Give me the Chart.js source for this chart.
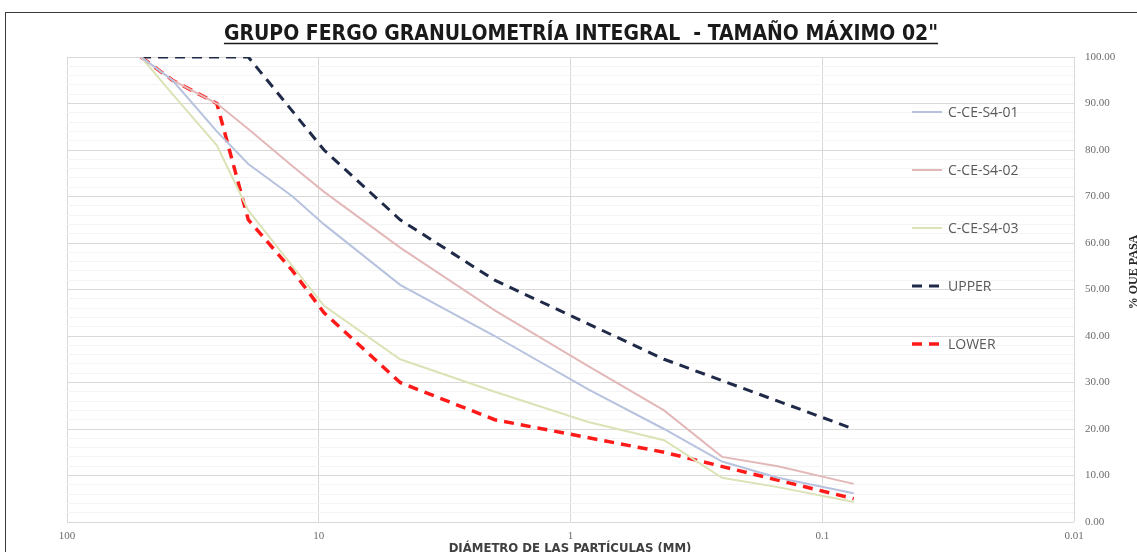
<!DOCTYPE html>
<html>
<head>
<meta charset="utf-8">
<script src="https://cdn.jsdelivr.net/npm/chart.js@4.4.1/dist/chart.umd.min.js"></script>
<style>
  html, body { margin: 0; padding: 0; background: #fff; overflow: hidden; }
  #wrap { position: relative; width: 1137px; height: 552px; overflow: hidden; }
  #frame { position: absolute; left: 5px; top: 12px; width: 1200px; height: 600px; border: 1px solid #3a3a3a; }
  #grafico { position: absolute; left: 0; top: 0; }
</style>
</head>
<body>
<div id="wrap">
  <div id="frame"></div>
  <canvas id="grafico" width="1137" height="552"></canvas>
</div>
<script>
// tamices (mm) y % que pasa
const tamices = [50.8, 38.1, 25.4, 19.05, 12.7, 9.525, 4.75, 2.0, 0.85, 0.425, 0.25, 0.15, 0.075];
const cCeS401 = [100, 95, 84, 77, 70, 64, 51, 40, 28.5, 20, 13, 9.5, 6.2];
const cCeS402 = [100, 95, 90, 84.5, 76.5, 71, 59, 45.5, 33.5, 24, 14, 12, 8.2];
const cCeS403 = [100, 92, 81, 67, 55, 46.5, 35, 28, 21.5, 17.6, 9.5, 7.5, 4.3];
const upper   = [100, null, null, 100, null, 80, 65, 52, null, 35, null, null, 20];
const lower   = [100, 95, 90, 65, 54, 45, 30, 22, null, 15, null, null, 5];

const ticksX = [100, 10, 1, 0.1, 0.01];

const titulo = 'GRUPO FERGO GRANULOMETRÍA INTEGRAL  - TAMAÑO MÁXIMO 02"';
const tituloX = "DIÁMETRO DE LAS PARTÍCULAS (MM)";
const tituloY = "% QUE PASA";

function esDecada(v) {
  const l = Math.log10(v);
  return Math.abs(l - Math.round(l)) < 1e-6;
}

// textos, leyenda y titulo dibujados encima del grafico
const textosPlugin = {
  id: "textos",
  afterDraw(chart) {
    const ctx = chart.ctx;
    ctx.save();

    // titulo subrayado
    ctx.font = 'bold 21px "Liberation Sans Narrow", "DejaVu Sans Condensed", sans-serif';
    ctx.fillStyle = "#1a1a1a";
    ctx.textAlign = "center";
    ctx.textBaseline = "alphabetic";
    ctx.fillText(titulo, 581, 40);
    const w = ctx.measureText(titulo).width;
    ctx.strokeStyle = "#1a1a1a";
    ctx.lineWidth = 1.5;
    ctx.beginPath();
    ctx.moveTo(581 - w / 2, 43.5);
    ctx.lineTo(581 + w / 2, 43.5);
    ctx.stroke();

    // titulo eje x (cortado abajo)
    ctx.font = 'bold 13px "Liberation Sans Narrow", "DejaVu Sans Condensed", sans-serif';
    ctx.fillStyle = "#404040";
    ctx.textBaseline = "top";
    ctx.fillText(tituloX, 570, 542);

    // titulo eje y
    ctx.save();
    ctx.translate(1134, 272);
    ctx.rotate(-Math.PI / 2);
    ctx.font = 'bold 12px "Liberation Serif", serif';
    ctx.textBaseline = "middle";
    ctx.fillStyle = "#262626";
    ctx.fillText(tituloY, 0, 0);
    ctx.restore();

    // leyenda
    chart.data.datasets.forEach((ds, i) => {
      const y = 112 + 58 * i;
      ctx.setLineDash(ds.borderDash || []);
      ctx.strokeStyle = ds.borderColor;
      ctx.lineWidth = ds.borderWidth;
      ctx.beginPath();
      ctx.moveTo(912, y);
      ctx.lineTo(942, y);
      ctx.stroke();
      ctx.setLineDash([]);
      ctx.font = '14px "Open Sans", sans-serif';
      ctx.fillStyle = "#595959";
      ctx.textAlign = "left";
      ctx.textBaseline = "middle";
      ctx.fillText(ds.label, 948, y + 1);
    });

    ctx.restore();
  }
};

new Chart(document.getElementById("grafico"), {
  type: "line",
  data: {
    labels: tamices,
    datasets: [
      { label: "C-CE-S4-01", data: cCeS401, borderColor: "#b7c3de", borderWidth: 2 },
      { label: "C-CE-S4-02", data: cCeS402, borderColor: "#e3b8b8", borderWidth: 2 },
      { label: "C-CE-S4-03", data: cCeS403, borderColor: "#dbe3b6", borderWidth: 2 },
      { label: "UPPER", data: upper, borderColor: "#1f2a48", borderWidth: 3, borderDash: [10, 7] },
      { label: "LOWER", data: lower, borderColor: "#ff1a1a", borderWidth: 3.5, borderDash: [10, 7] }
    ]
  },
  options: {
    responsive: false,
    animation: false,
    spanGaps: true,
    layout: { padding: { left: 67, top: 57, right: 0, bottom: 0 } },
    elements: {
      point: { radius: 0 },
      line: { tension: 0, fill: false }
    },
    plugins: {
      legend: { display: false },
      title: { display: false },
      tooltip: { enabled: false }
    },
    scales: {
      x: {
        type: "logarithmic",
        reverse: true,
        min: 0.01,
        max: 100,
        afterFit: (s) => { s.height = 30; },
        grid: {
          drawTicks: false,
          color: (c) => (c.tick && esDecada(c.tick.value) ? "#d9d9d9" : "rgba(0,0,0,0)")
        },
        border: { display: false },
        ticks: {
          autoSkip: false,
          maxRotation: 0,
          padding: 8,
          color: "#6b6b6b",
          font: { family: '"Liberation Serif", serif', size: 11 },
          callback: (v) => {
            const t = ticksX.find((d) => Math.abs(d - v) / d < 1e-6);
            return t !== undefined ? String(t) : "";
          }
        }
      },
      y: {
        position: "right",
        min: 0,
        max: 100,
        afterFit: (s) => { s.width = 63; },
        grid: {
          drawTicks: false,
          color: (c) => (c.tick && c.tick.value % 10 === 0 ? "#d9d9d9" : "#f4f4f4")
        },
        border: { display: false },
        ticks: {
          stepSize: 2,
          autoSkip: false,
          padding: 11,
          color: "#6b6b6b",
          font: { family: '"Liberation Serif", serif', size: 11 },
          callback: (v) => (v % 10 === 0 ? v.toFixed(2) : "")
        }
      }
    }
  },
  plugins: [textosPlugin]
});
</script>
</body>
</html>
